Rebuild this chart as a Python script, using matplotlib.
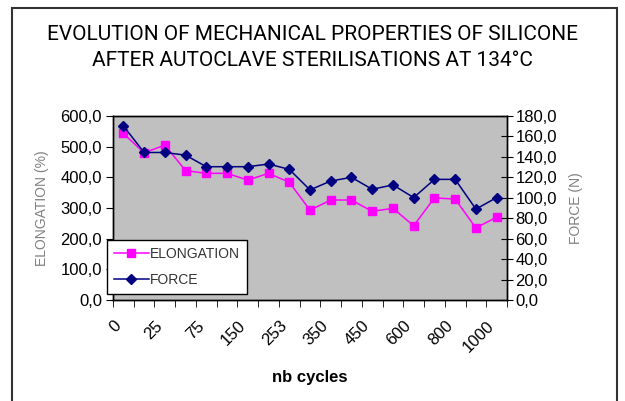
import matplotlib.pyplot as plt
from matplotlib.ticker import FuncFormatter
from matplotlib.patches import Rectangle
from matplotlib.transforms import ScaledTranslation

# cycle counts (19 categories, only every other one labelled)
cycles = ['0', '10', '25', '50', '75', '100', '150', '200', '253', '300',
          '350', '400', '450', '500', '600', '700', '800', '900', '1000']

# elongation in % (left axis)
elongation = [543, 480, 505, 422, 413, 413, 391, 413, 384, 293,
              326, 326, 289, 299, 242, 333, 329, 235, 270]

# force in N (right axis)
force = [170.3, 144.3, 144.3, 141.7, 130.4, 130.4, 130.4, 133.0, 127.8, 107.7,
         116.4, 120.0, 108.3, 112.6, 100.2, 118.0, 118.0, 88.9, 100.2]

plt.rcParams['font.family'] = ['Liberation Sans', 'DejaVu Sans']

fig = plt.figure(figsize=(6.25, 4.01), dpi=100)
ax = fig.add_axes([113 / 625, 1 - 300 / 401, 394 / 625, 184 / 401])
ax.set_facecolor('#c0c0c0')
ax2 = ax.twinx()

x = list(range(len(cycles)))
l1, = ax.plot(x, elongation, color='#ff00ff', lw=1.1, marker='s', ms=6,
              label='ELONGATION', zorder=3)
l2, = ax2.plot(x, force, color='#000080', lw=1.1, marker='D', ms=5,
               label='FORCE', zorder=3)

ax.set_xlim(-0.5, len(cycles) - 0.5)
ax.set_ylim(0, 600)
ax2.set_ylim(0, 180)
ax.set_yticks(range(0, 601, 100))
ax2.set_yticks(range(0, 181, 20))

fmt = FuncFormatter(lambda v, p: f'{v:.1f}'.replace('.', ','))
ax.yaxis.set_major_formatter(fmt)
ax2.yaxis.set_major_formatter(fmt)

# labels on every other category, tick marks between categories
ax.set_xticks(x[::2])
ax.set_xticklabels(cycles[::2], rotation=45, ha='right', rotation_mode='anchor')
ax.set_xticks([i - 0.5 for i in range(len(cycles) + 1)], minor=True)
ax.tick_params(axis='x', which='major', length=0, labelsize=12, pad=13)
ax.tick_params(axis='x', which='minor', length=5, direction='out')
ax.tick_params(axis='y', length=5, direction='out', labelsize=12, pad=3)
ax2.tick_params(axis='y', length=8, direction='inout', labelsize=12, pad=2)

# nudge the rotated labels left like the original
shift = ScaledTranslation(-10 / 100, 0, fig.dpi_scale_trans)
for lab in ax.get_xticklabels():
    lab.set_transform(lab.get_transform() + shift)

for a in (ax, ax2):
    for s in a.spines.values():
        s.set_color('black')
        s.set_linewidth(1)

ax.set_ylabel('ELONGATION (%)', color='#808080', fontsize=10, labelpad=8)
ax2.set_ylabel('FORCE (N)', color='#808080', fontsize=10, labelpad=9)
ax.set_xlabel('nb cycles', fontweight='bold', fontsize=12, labelpad=11)

fig.text(0.5, 1 - 34 / 401, 'EVOLUTION OF MECHANICAL PROPERTIES OF SILICONE',
         ha='center', va='center', fontsize=15, family='Roboto')
fig.text(0.5, 1 - 60 / 401, 'AFTER AUTOCLAVE STERILISATIONS AT 134°C',
         ha='center', va='center', fontsize=15, family='Roboto')

leg = ax2.legend(handles=[l1, l2], loc='lower left',
                 bbox_to_anchor=(107 / 625, 1 - 294 / 401), bbox_transform=fig.transFigure,
                 fancybox=False, framealpha=1, edgecolor='black', fontsize=10,
                 handlelength=2.5, borderaxespad=0, labelcolor='#333333',
                 borderpad=0.5, labelspacing=0.9, handletextpad=0.1)
leg.get_frame().set_linewidth(1)

fig.patches.append(Rectangle((12 / 625, -0.05), 605 / 625, 1.05 - 8 / 401,
                             transform=fig.transFigure, fill=False,
                             edgecolor='#333333', lw=1.5))

fig.savefig('out.png', dpi=100)
